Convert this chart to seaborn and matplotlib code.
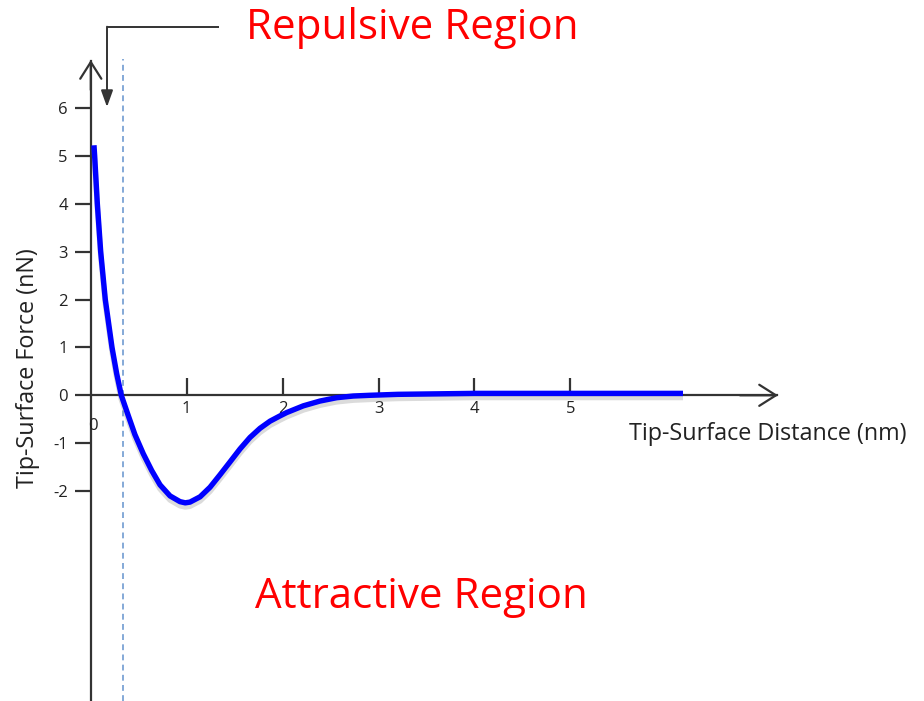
import matplotlib
matplotlib.use("Agg")
import matplotlib.pyplot as plt
import matplotlib.patheffects as pe
import seaborn as sns
import pandas as pd

# ---- data ----
distance_nm = [0.033, 0.04, 0.068, 0.103, 0.151, 0.221, 0.27, 0.318, 0.39, 0.46,
               0.547, 0.635, 0.722, 0.826, 0.93, 0.985, 1.034, 1.139, 1.243, 1.347,
               1.452, 1.556, 1.66, 1.764, 1.869, 1.973, 2.043, 2.216, 2.39, 2.564,
               2.737, 2.91, 3.2, 3.6, 4.0, 4.5, 5.0, 5.5, 6.175]
force_nN = [5.22, 5.0, 4.0, 3.0, 2.0, 1.0, 0.45, 0.0, -0.42, -0.82,
            -1.22, -1.57, -1.87, -2.1, -2.22, -2.245, -2.23, -2.12, -1.92, -1.66,
            -1.39, -1.12, -0.88, -0.69, -0.54, -0.43, -0.36, -0.22, -0.12, -0.05,
            -0.015, 0.0, 0.02, 0.03, 0.04, 0.04, 0.04, 0.04, 0.04]
x_ticks = [1, 2, 3, 4, 5]
y_ticks = [-2, -1, 0, 1, 2, 3, 4, 5, 6]
boundary_nm = 0.333
x_label = "Tip-Surface Distance (nm)"
y_label = "Tip-Surface Force (nN)"
top_text = "Repulsive Region"
bottom_text = "Attractive Region"

df = pd.DataFrame({"d": distance_nm, "f": force_nN})

sns.set_style("white")
plt.rcParams["font.family"] = ["Open Sans", "DejaVu Sans"]

W, H = 924, 701
fig = plt.figure(figsize=(W / 100, H / 100), dpi=100)
ax = fig.add_axes([0, 0, 1, 1])

# pixel mapping: origin (90.8, 395.3), 95.9 px / nm, 47.9 px / nN
ox, oy, sx, sy = 90.8, 395.3, 95.9, 47.9
def dx(px):
    return (px - ox) / sx
def dy(py):
    return (oy - py) / sy

ax.set_xlim(dx(0), dx(W))
ax.set_ylim(dy(H), dy(0))

axc = "#333333"
txc = "#222222"
# dashed boundary
ax.plot([boundary_nm, boundary_nm], [dy(H), dy(59)], ls=(0, (3.5, 2.6)), lw=1.2,
        color="#6f9bd1", zorder=1)

sns.lineplot(data=df, x="d", y="f", ax=ax, color="#0000ff", lw=3.9, sort=False,
             zorder=3,
             path_effects=[pe.SimpleLineShadow(offset=(0, -3), shadow_color="#888888", alpha=0.3),
                           pe.Normal()])
curve = ax.lines[-1]
curve.set_solid_capstyle("butt")
curve.set_solid_joinstyle("round")

# spines as axes through origin
for s in ["top", "right"]:
    ax.spines[s].set_visible(False)
ax.spines["left"].set_position(("data", 0))
ax.spines["bottom"].set_position(("data", 0))
ax.spines["left"].set_bounds(dy(H), dy(61))
ax.spines["bottom"].set_bounds(0, dx(777))
for s in ["left", "bottom"]:
    ax.spines[s].set_color(axc)
    ax.spines[s].set_linewidth(1.6)
    ax.spines[s].set_zorder(2)

ax.set_xticks(x_ticks)
ax.set_xticklabels([str(t) for t in x_ticks])
ax.set_yticks(y_ticks)
ax.set_yticklabels([str(t) for t in y_ticks])
ax.tick_params(axis="x", bottom=True, direction="in", length=12, width=1.6, color=axc, pad=4,
               labelsize=12, labelcolor=txc)
ax.tick_params(axis="y", left=True, direction="out", length=11.5, width=1.6, color=axc, pad=5,
               labelsize=12, labelcolor=txc)
ax.set_xlabel("")
ax.set_ylabel("")

# origin "0" label for x axis
ax.text(dx(93), dy(426), "0", ha="center", va="center", fontsize=12, color=txc)

# axis arrowheads (open chevrons)
ax.annotate("", xy=(0, dy(60)), xytext=(0, dy(90)),
            arrowprops=dict(arrowstyle="->,head_length=0.6,head_width=0.38", color=axc, lw=1.6,
                            mutation_scale=20, shrinkA=0, shrinkB=0))
ax.annotate("", xy=(dx(778), 0), xytext=(dx(740), 0),
            arrowprops=dict(arrowstyle="->,head_length=0.6,head_width=0.38", color=axc, lw=1.6,
                            mutation_scale=20, shrinkA=0, shrinkB=0))

# bracket arrow toward the repulsive region
ax.plot([dx(219), dx(107)], [dy(26.7), dy(26.7)], color=axc, lw=1.4, solid_capstyle="butt")
ax.annotate("", xy=(dx(107), dy(107)), xytext=(dx(107), dy(26.7)),
            arrowprops=dict(arrowstyle="-|>,head_length=0.5,head_width=0.18", color=axc, lw=1.4,
                            mutation_scale=20, shrinkA=0, shrinkB=0))

# region texts
ax.text(dx(412), dy(28), top_text, ha="center", va="center", fontsize=30.3, color="#ff0000")
ax.text(dx(421), dy(597), bottom_text, ha="center", va="center", fontsize=30.3, color="#ff0000")

# axis titles
ax.text(dx(768), dy(434), x_label, ha="center", va="center", fontsize=16.8, color=txc)
ax.text(dx(28), dy(368), y_label, ha="center", va="center", fontsize=16.8, color=txc,
        rotation=90)

fig.savefig("out.png", dpi=100)
